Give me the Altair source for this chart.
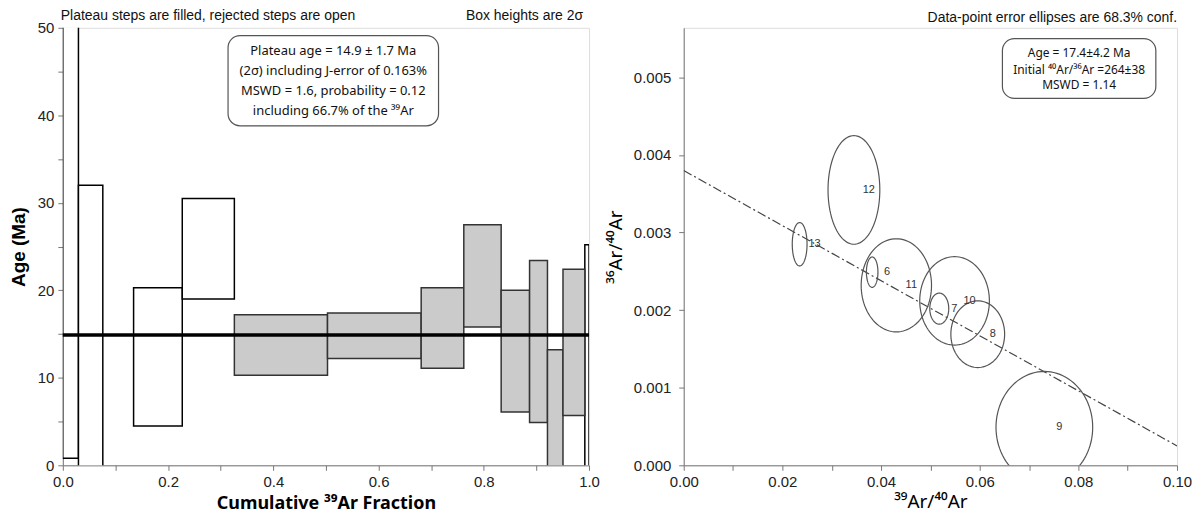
import altair as alt
import pandas as pd
import numpy as np

FONT = "Liberation Sans"
SUPFONT = "Noto Sans"

# ---------------- Left panel: age spectrum ----------------
step_x0 = [0.0, 0.0297, 0.1345, 0.227, 0.326, 0.503, 0.681, 0.762, 0.833, 0.887, 0.921, 0.9505, 0.992]
step_x1 = [0.0297, 0.076, 0.227, 0.326, 0.503, 0.681, 0.762, 0.833, 0.887, 0.921, 0.9505, 0.992, 1.0]
age_lo = [0.8, -5.0, 4.5, 19.0, 10.3, 12.2, 11.1, 15.8, 6.1, 4.9, -5.0, 5.7, -5.0]
age_hi = [60.0, 32.0, 20.3, 30.5, 17.2, 17.4, 20.3, 27.5, 20.0, 23.4, 13.2, 22.4, 25.2]
in_plateau = [False, False, False, False, True, True, True, True, True, True, True, True, False]
plateau_age = 14.9

left_box_lines = [
    "Plateau age = 14.9 ± 1.7 Ma",
    "(2σ) including J-error of 0.163%",
    "MSWD = 1.6, probability = 0.12",
    "including 66.7% of the ³⁹Ar",
]
left_box_line_y = [47.4, 45.1, 42.8, 40.5]
left_box_x = [0.314, 0.714]
left_box_y = [49.1, 38.8]

# ---------------- Right panel: inverse isochron ----------------
ell_step = ["6", "7", "8", "9", "10", "11", "12", "13"]
ell_x = [0.0382, 0.0518, 0.0596, 0.0731, 0.0549, 0.0431, 0.0345, 0.0235]
ell_y = [0.00249, 0.00202, 0.00169, 0.00049, 0.00212, 0.00232, 0.00355, 0.00285]
ell_sx = [0.00117, 0.00192, 0.00545, 0.0098, 0.00706, 0.00713, 0.00525, 0.0015]
ell_sy = [0.000196, 0.00020, 0.00043, 0.00072, 0.00057, 0.00060, 0.00070, 0.00028]

iso_x = [0.0, 0.1]
iso_y = [0.0038, 0.00025]

right_box_lines = [
    "Age = 17.4±4.2 Ma",
    "Initial ⁴⁰Ar/³⁶Ar =264±38",
    "MSWD = 1.14",
]
right_box_line_y = [0.00531, 0.00510, 0.00490]
right_box_x = [0.0646, 0.0957]
right_box_y = [0.00550, 0.00473]

W1, W2, H = 528, 495, 439
AXIS_GRAY = "#777777"

# ---------- left chart ----------
spec = pd.DataFrame(dict(x0=step_x0, x1=step_x1, lo=age_lo, hi=age_hi, plateau=in_plateau))
xs1 = alt.Scale(domain=[0, 1], nice=False, zero=False)
ys1 = alt.Scale(domain=[0, 50], nice=False, zero=False)

x_axis1 = alt.Axis(
    values=[round(v * 0.1, 1) for v in range(11)],
    labelExpr="round(datum.value*10) % 2 == 0 ? format(datum.value, '.1f') : ''",
    grid=False, tickSize=5, tickColor=AXIS_GRAY, domainColor=AXIS_GRAY,
    labelFont=FONT, labelFontSize=15, labelColor="#222", labelFlush=False, labelOverlap=False,
    labelPadding=4, titleFont=SUPFONT, titleFontSize=18, titleFontWeight="bold", titleColor="black",
    titlePadding=5,
)
y_axis1 = alt.Axis(
    values=list(range(0, 51, 5)),
    labelExpr="datum.value % 10 == 0 ? datum.label : ''",
    grid=False, tickSize=5, tickColor=AXIS_GRAY, domainColor=AXIS_GRAY,
    labelFont=FONT, labelFontSize=15, labelColor="#222", labelOverlap=False, labelPadding=4,
    titleFont=FONT, titleFontSize=19, titleFontWeight="bold", titleColor="black", titlePadding=9,
)

base1 = alt.Chart(spec).encode(
    x=alt.X("x0:Q", scale=xs1, axis=x_axis1, title="Cumulative ³⁹Ar Fraction"),
    x2="x1:Q",
    y=alt.Y("lo:Q", scale=ys1, axis=y_axis1, title="Age (Ma)"),
    y2="hi:Q",
)
open_boxes = base1.transform_filter("!datum.plateau").mark_rect(
    fill="white", stroke="black", strokeWidth=1.5, clip=True)
filled_boxes = base1.transform_filter("datum.plateau").mark_rect(
    fill="#cbcbcb", stroke="#333333", strokeWidth=1.5, clip=True)

plat = alt.Chart(pd.DataFrame({"age": [plateau_age], "a": [0.0], "b": [1.0]})).mark_rule(
    color="black", strokeWidth=3.5).encode(
    x=alt.X("a:Q", scale=xs1), x2="b:Q", y=alt.Y("age:Q", scale=ys1))

lbox = pd.DataFrame({"x0": [left_box_x[0]], "x1": [left_box_x[1]], "y0": [left_box_y[0]], "y1": [left_box_y[1]]})
lshadow = alt.Chart(lbox).mark_rect(fill="#9a9a9a", cornerRadius=12, xOffset=5, yOffset=5, opacity=0.85).encode(
    x=alt.X("x0:Q", scale=xs1), x2="x1:Q", y=alt.Y("y0:Q", scale=ys1), y2="y1:Q")
lrect = alt.Chart(lbox).mark_rect(fill="white", stroke="#555", strokeWidth=1.2, cornerRadius=12).encode(
    x=alt.X("x0:Q", scale=xs1), x2="x1:Q", y=alt.Y("y0:Q", scale=ys1), y2="y1:Q")
ltext = alt.Chart(pd.DataFrame({"t": left_box_lines, "y": left_box_line_y,
                                 "x": [sum(left_box_x) / 2] * len(left_box_lines)})).mark_text(
    font=SUPFONT, fontSize=13, color="#111", align="center", baseline="middle").encode(
    x=alt.X("x:Q", scale=xs1), y=alt.Y("y:Q", scale=ys1), text="t:N")

top_left = alt.Chart(pd.DataFrame({"t": ["Plateau steps are filled, rejected steps are open"]})).mark_text(
    font=FONT, fontSize=14, color="#111", align="left", baseline="middle").encode(
    x=alt.value(-2), y=alt.value(-12), text="t:N")
top_right = alt.Chart(pd.DataFrame({"t": ["Box heights are 2σ"]})).mark_text(
    font=FONT, fontSize=14, color="#111", align="right", baseline="middle").encode(
    x=alt.value(W1 - 6), y=alt.value(-12), text="t:N")

left = alt.layer(open_boxes, filled_boxes, plat, lshadow, lrect, ltext, top_left, top_right).properties(
    width=W1, height=H)

# ---------- right chart ----------
rows = []
tt = np.linspace(0, 2 * np.pi, 97)
for s, cx, cy, sx, sy in zip(ell_step, ell_x, ell_y, ell_sx, ell_sy):
    for i, t in enumerate(tt):
        rows.append({"step": s, "i": i, "x": cx + sx * np.cos(t), "y": cy + sy * np.sin(t)})
ell_df = pd.DataFrame(rows)

xs2 = alt.Scale(domain=[0, 0.1], nice=False, zero=False)
ys2 = alt.Scale(domain=[0, 0.00564], nice=False, zero=False)

x_axis2 = alt.Axis(
    values=[round(v * 0.01, 2) for v in range(11)],
    labelExpr="round(datum.value*100) % 2 == 0 ? format(datum.value, '.2f') : ''",
    grid=False, tickSize=5, tickColor=AXIS_GRAY, domainColor=AXIS_GRAY,
    labelFont=FONT, labelFontSize=15, labelColor="#222", labelFlush=False, labelOverlap=False,
    labelPadding=4, titleFont=SUPFONT, titleFontSize=19, titleFontWeight="normal", titleColor="black",
    titlePadding=3,
)
y_axis2 = alt.Axis(
    values=[round(v * 0.0005, 4) for v in range(12)],
    labelExpr="round(datum.value*2000) % 2 == 0 ? format(datum.value, '.3f') : ''",
    grid=False, tickSize=5, tickColor=AXIS_GRAY, domainColor=AXIS_GRAY,
    labelFont=FONT, labelFontSize=15, labelColor="#222", labelOverlap=False, labelFlush=False,
    labelPadding=8, titleFont=SUPFONT, titleFontSize=19, titleFontWeight="normal", titleColor="black",
    titlePadding=8,
)

ellipses = alt.Chart(ell_df).mark_line(color="#555", strokeWidth=1.2, clip=True).encode(
    x=alt.X("x:Q", scale=xs2, axis=x_axis2, title="³⁹Ar/⁴⁰Ar"),
    y=alt.Y("y:Q", scale=ys2, axis=y_axis2, title="³⁶Ar/⁴⁰Ar"),
    detail="step:N", order="i:Q")

labels = alt.Chart(pd.DataFrame({"step": ell_step, "x": ell_x, "y": ell_y})).mark_text(
    font=FONT, fontSize=11, color="#333333", dx=15, align="center", baseline="middle").encode(
    x=alt.X("x:Q", scale=xs2), y=alt.Y("y:Q", scale=ys2), text="step:N")

iso = alt.Chart(pd.DataFrame({"x": iso_x, "y": iso_y})).mark_line(
    color="#444", strokeWidth=1.2, strokeDash=[9, 3, 2, 3], clip=True).encode(
    x=alt.X("x:Q", scale=xs2), y=alt.Y("y:Q", scale=ys2))

rbox = pd.DataFrame({"x0": [right_box_x[0]], "x1": [right_box_x[1]], "y0": [right_box_y[0]], "y1": [right_box_y[1]]})
rshadow = alt.Chart(rbox).mark_rect(fill="#9a9a9a", cornerRadius=12, xOffset=5, yOffset=5, opacity=0.85).encode(
    x=alt.X("x0:Q", scale=xs2), x2="x1:Q", y=alt.Y("y0:Q", scale=ys2), y2="y1:Q")
rrect = alt.Chart(rbox).mark_rect(fill="white", stroke="#555", strokeWidth=1.2, cornerRadius=12).encode(
    x=alt.X("x0:Q", scale=xs2), x2="x1:Q", y=alt.Y("y0:Q", scale=ys2), y2="y1:Q")
rtext = alt.Chart(pd.DataFrame({"t": right_box_lines, "y": right_box_line_y,
                                 "x": [sum(right_box_x) / 2] * len(right_box_lines)})).mark_text(
    font=SUPFONT, fontSize=12, color="#111", align="center", baseline="middle").encode(
    x=alt.X("x:Q", scale=xs2), y=alt.Y("y:Q", scale=ys2), text="t:N")

top_r = alt.Chart(pd.DataFrame({"t": ["Data-point error ellipses are 68.3% conf."]})).mark_text(
    font=FONT, fontSize=14, color="#111", align="right", baseline="middle").encode(
    x=alt.value(W2), y=alt.value(-10), text="t:N")

right = alt.layer(iso, ellipses, labels, rshadow, rrect, rtext, top_r).properties(width=W2, height=H)

chart = alt.hconcat(left, right, spacing=5).properties(
    padding={"left": 0, "top": -1, "right": 0, "bottom": 0}
).configure_view(stroke=AXIS_GRAY, strokeWidth=1).configure(background="white")

chart.save("out.html", embed_options={"renderer": "svg", "actions": False})
